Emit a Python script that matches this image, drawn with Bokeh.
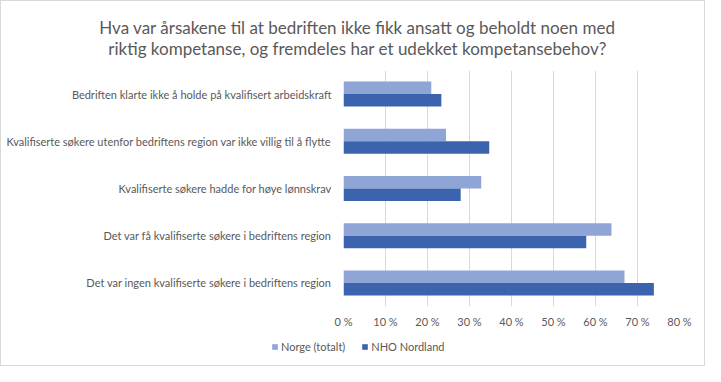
from bokeh.plotting import figure
from bokeh.layouts import column
from bokeh.models import (FactorRange, Range1d, FixedTicker, Legend, LegendItem,
                          ColumnDataSource, Label)
from bokeh.transform import dodge
from bokeh.embed import file_html
from bokeh.resources import INLINE

# ---- data (categories listed bottom -> top) ----
categories = [
    "Det var ingen kvalifiserte søkere i bedriftens region",
    "Det var få kvalifiserte søkere i bedriftens region",
    "Kvalifiserte søkere hadde for høye lønnskrav",
    "Kvalifiserte søkere utenfor bedriftens region var ikke villig til å flytte",
    "Bedriften klarte ikke å holde på kvalifisert arbeidskraft",
]
norge = [66.9, 63.8, 32.8, 24.4, 20.9]
nho_nordland = [73.9, 57.8, 27.9, 34.7, 23.3]
series_names = ["Norge (totalt)", "NHO Nordland"]
x_ticks = [0, 10, 20, 30, 40, 50, 60, 70, 80]
x_tick_labels = ["0 %", "10 %", "20 %", "30 %", "40 %", "50 %", "60 %", "70 %", "80 %"]
title_lines = [
    "Hva var årsakene til at bedriften ikke fikk ansatt og beholdt noen med",
    "riktig kompetanse, og fremdeles har et udekket kompetansebehov?",
]

LIGHT = "#8FA5D5"
DARK = "#3C64AE"
TXT = "#595959"
FONT = "Lato"
W = 703
TH = 60   # title strip height
LH = 30   # legend strip height

src = ColumnDataSource(dict(cat=categories, norge=norge, nho=nho_nordland))

# ---- title strip ----
tf = figure(width=W, height=TH, output_backend="svg", toolbar_location=None,
            title=None, x_axis_type=None, y_axis_type=None,
            x_range=Range1d(0, W), y_range=Range1d(TH, 0), min_border=0)
tf.frame_align = False
tf.outline_line_color = None
tf.grid.grid_line_color = None
for line, ty in zip(title_lines, [26, 46.5]):
    tf.add_layout(Label(x=356, y=ty, text=line, text_align="center",
                        text_baseline="alphabetic", text_font=FONT,
                        text_font_size="17px", text_color=TXT))

# ---- main chart ----
p = figure(width=W, height=334 - TH, output_backend="svg", toolbar_location=None,
           title=None,
           y_range=FactorRange(*categories), x_range=Range1d(0, 80),
           min_border_left=342, min_border_right=25, min_border_top=69 - TH,
           min_border_bottom=29)
p.frame_align = False
p.outline_line_color = None
p.background_fill_color = "white"
p.border_fill_color = "white"

p.hbar(y=dodge("cat", 0.1325, range=p.y_range), right="norge", left=0,
       height=0.265, source=src, color=LIGHT, line_color=None)
p.hbar(y=dodge("cat", -0.1325, range=p.y_range), right="nho", left=0,
       height=0.265, source=src, color=DARK, line_color=None)

p.xaxis.ticker = FixedTicker(ticks=x_ticks)
p.xaxis.major_label_overrides = {t: l for t, l in zip(x_ticks, x_tick_labels)}
for ax in (p.xaxis, p.yaxis):
    ax.axis_line_color = None
    ax.major_tick_line_color = None
    ax.minor_tick_line_color = None
    ax.major_tick_out = 0
    ax.major_tick_in = 0
    ax.major_label_text_color = TXT
    ax.major_label_text_font = FONT
    ax.major_label_text_font_size = "11px"
p.xaxis.major_label_standoff = 8
p.yaxis.major_label_standoff = 12

p.xgrid.grid_line_color = "#D9D9D9"
p.ygrid.grid_line_color = None

# ---- legend strip (legend-only, hidden copies of the two series) ----
lg = figure(width=W, height=LH, output_backend="svg", toolbar_location=None,
            title=None, x_axis_type=None, y_axis_type=None,
            x_range=Range1d(0, 80), y_range=FactorRange(*categories),
            min_border=0)
lg.frame_align = False
lg.outline_line_color = None
lg.grid.grid_line_color = None
k1 = lg.hbar(y="cat", right="norge", left=0, height=0.5, source=src,
             color=LIGHT, line_color=None, visible=False)
k2 = lg.hbar(y="cat", right="nho", left=0, height=0.5, source=src,
             color=DARK, line_color=None, visible=False)
legend = Legend(items=[LegendItem(label=series_names[0], renderers=[k1]),
                       LegendItem(label=series_names[1], renderers=[k2])],
                orientation="horizontal", location=(270, 12),
                glyph_width=7, glyph_height=7, label_standoff=3, spacing=16,
                padding=0, margin=0, border_line_color=None,
                background_fill_alpha=0, inactive_fill_alpha=0,
                label_text_font=FONT, label_text_font_size="11px",
                label_text_color=TXT, label_height=14)
lg.add_layout(legend, "center")

layout = column(tf, p, lg, spacing=0)
layout.styles = {"border": "1px solid #D9D9D9", "background": "white"}

open("out.html", "w").write(file_html(layout, INLINE))
